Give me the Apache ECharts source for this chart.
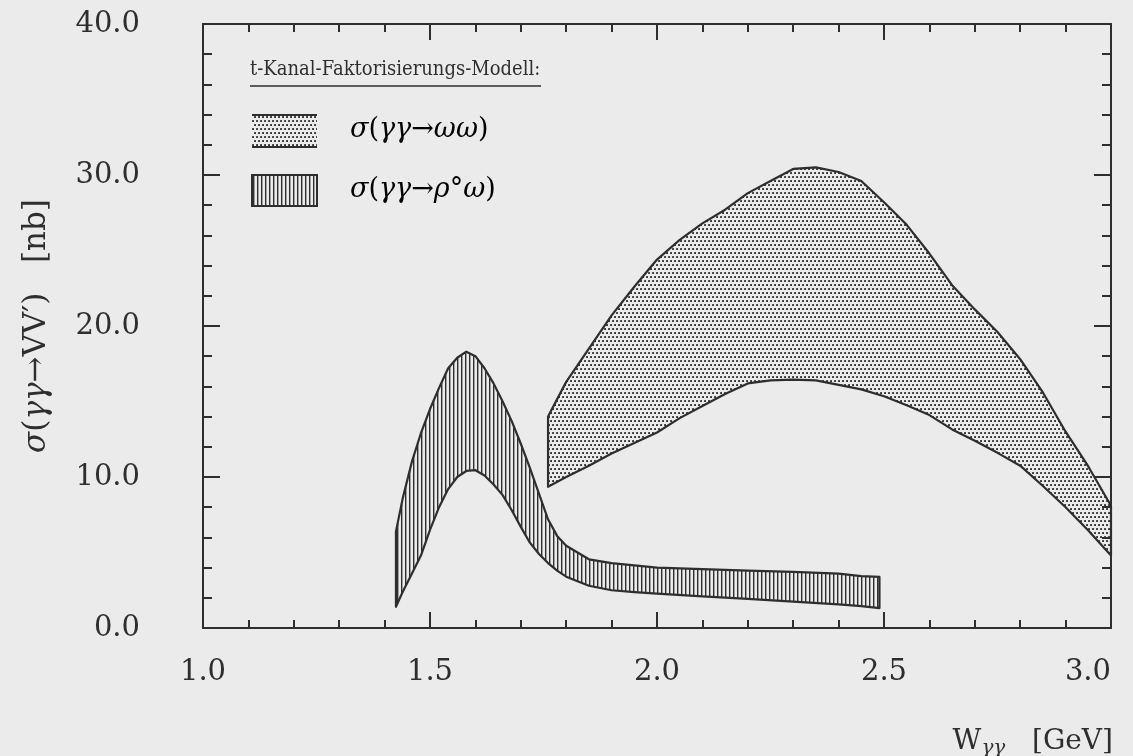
<!DOCTYPE html>
<html>
<head>
<meta charset="utf-8">
<script src="https://cdn.jsdelivr.net/npm/echarts@6/dist/echarts.min.js"></script>
<style>
  html, body { margin: 0; padding: 0; background: #ebebeb; }
  #chart { width: 1133px; height: 756px; }
</style>
</head>
<body>
<div id="chart"></div>
<script>
// W_gamma-gamma in GeV, cross sections in nb
const rhoX = [1.425, 1.44, 1.46, 1.48, 1.50, 1.52, 1.54, 1.56, 1.58, 1.60, 1.62, 1.64, 1.66, 1.68, 1.70,
  1.72, 1.74, 1.76, 1.78, 1.80, 1.85, 1.90, 1.95, 2.00, 2.10, 2.20, 2.30, 2.40, 2.45, 2.49];
const rhoHigh = [6.4, 8.6, 11.0, 12.9, 14.5, 15.9, 17.2, 17.9, 18.3, 18.0, 17.2, 16.2, 15.0, 13.7, 12.2,
  10.6, 8.9, 7.2, 6.1, 5.45, 4.55, 4.3, 4.15, 4.0, 3.9, 3.8, 3.72, 3.6, 3.44, 3.38];
const rhoLow = [1.4, 2.4, 3.6, 4.8, 6.5, 8.0, 9.2, 10.0, 10.4, 10.45, 10.1, 9.5, 8.8, 7.8, 6.7,
  5.65, 4.9, 4.3, 3.8, 3.4, 2.8, 2.5, 2.38, 2.28, 2.1, 1.93, 1.75, 1.57, 1.45, 1.32];

const omegaX = [1.76, 1.80, 1.85, 1.90, 1.95, 2.00, 2.05, 2.10, 2.15, 2.20, 2.25, 2.30, 2.35, 2.40,
  2.45, 2.50, 2.55, 2.60, 2.65, 2.70, 2.75, 2.80, 2.85, 2.90, 2.95, 3.00];
const omegaHigh = [14.0, 16.3, 18.5, 20.7, 22.6, 24.4, 25.7, 26.8, 27.7, 28.8, 29.6, 30.4, 30.5, 30.2,
  29.6, 28.2, 26.7, 24.8, 22.7, 21.1, 19.6, 17.8, 15.6, 13.0, 10.7, 8.1];
const omegaLow = [9.35, 10.0, 10.75, 11.55, 12.25, 12.95, 13.9, 14.7, 15.5, 16.2, 16.4, 16.45, 16.4, 16.1,
  15.8, 15.35, 14.75, 14.1, 13.15, 12.4, 11.6, 10.75, 9.4, 8.0, 6.45, 4.8];

const xTickLabels = ['1.0', '1.5', '2.0', '2.5', '3.0'];
const yTickLabels = ['0.0', '10.0', '20.0', '30.0', '40.0'];

const ink = '#2e2e2e';
const serif = 'DejaVu Serif';

function dotPattern() {
  const c = document.createElement('canvas');
  c.width = 8; c.height = 8;
  const ctx = c.getContext('2d');
  ctx.fillStyle = '#333333';
  [[1, 1], [5, 1], [3, 5], [7, 5]].forEach(p => ctx.fillRect(p[0] - 0.9, p[1] - 0.9, 1.9, 1.9));
  return { image: c, repeat: 'repeat' };
}

function linePattern() {
  const c = document.createElement('canvas');
  c.width = 4; c.height = 4;
  const ctx = c.getContext('2d');
  ctx.fillStyle = '#2e2e2e';
  ctx.fillRect(1, 0, 1.4, 4);
  return { image: c, repeat: 'repeat' };
}

const dots = dotPattern();
const hatch = linePattern();

function bandSeries(name, xs, lo, hi, fill) {
  return {
    name: name,
    type: 'custom',
    data: xs.map((x, i) => [x, lo[i], hi[i]]),
    encode: { x: 0, y: [1, 2] },
    renderItem: function (params, api) {
      if (params.dataIndex !== 0) return null;
      const pts = [];
      for (let i = 0; i < xs.length; i++) pts.push(api.coord([xs[i], hi[i]]));
      for (let i = xs.length - 1; i >= 0; i--) pts.push(api.coord([xs[i], lo[i]]));
      return {
        type: 'polygon',
        shape: { points: pts },
        style: { fill: fill, stroke: ink, lineWidth: 2.2, lineJoin: 'round' }
      };
    },
    silent: true,
    z: 3
  };
}

function xAxisBase(pos) {
  return {
    type: 'value', position: pos, min: 1, max: 3, interval: 0.5,
    axisLine: { show: true, onZero: false, lineStyle: { color: ink, width: 2 } },
    axisTick: { show: true, inside: true, length: 16, lineStyle: { color: ink, width: 2 } },
    minorTick: { show: true, splitNumber: 5, length: 8, lineStyle: { color: ink, width: 2 } },
    splitLine: { show: false },
    axisLabel: {
      show: pos === 'bottom', margin: 30, fontSize: 29, fontFamily: serif, color: ink,
      alignMaxLabel: 'right',
      formatter: (v, i) => xTickLabels[i]
    }
  };
}

function yAxisBase(pos) {
  return {
    type: 'value', position: pos, min: 0, max: 40, interval: 10,
    axisLine: { show: true, onZero: false, lineStyle: { color: ink, width: 2 } },
    axisTick: { show: true, inside: true, length: 17, lineStyle: { color: ink, width: 2 } },
    minorTick: { show: true, splitNumber: 5, length: 9, lineStyle: { color: ink, width: 2 } },
    splitLine: { show: false },
    axisLabel: {
      show: pos === 'left', margin: 63, fontSize: 29, fontFamily: serif, color: ink,
      formatter: (v, i) => yTickLabels[i]
    }
  };
}

const xBottom = xAxisBase('bottom');
xBottom.name = '{n|W}{sub|γγ}   {n|[GeV]}';
xBottom.nameLocation = 'end';
xBottom.nameGap = 2;
xBottom.nameTextStyle = {
  align: 'right', verticalAlign: 'middle', padding: [228, 0, 0, 0], color: ink, fontFamily: serif, fontSize: 28,
  rich: {
    n: { fontSize: 28, fontFamily: serif, color: ink, lineHeight: 34 },
    sub: { fontSize: 20, fontFamily: serif, fontStyle: 'italic', color: ink, lineHeight: 18, verticalAlign: 'bottom' }
  }
};

const yLeft = yAxisBase('left');
yLeft.name = '{it|σ}{n|(}{it|γγ}{n|→VV′)   [nb]}';
yLeft.nameLocation = 'middle';
yLeft.nameGap = 151;
yLeft.nameTextStyle = {
  color: ink, fontFamily: serif, fontSize: 31,
  rich: {
    n: { fontSize: 31, fontFamily: serif, color: ink },
    it: { fontSize: 31, fontFamily: serif, fontStyle: 'italic', color: ink }
  }
};

const labelRich = {
  n: { fontSize: 27, fontFamily: serif, color: ink },
  it: { fontSize: 27, fontFamily: serif, fontStyle: 'italic', color: ink }
};

const myChart = echarts.init(document.getElementById('chart'), null, { renderer: 'canvas' });
const option = {
  backgroundColor: '#ebebeb',
  animation: false,
  grid: { left: 203, right: 22, top: 24, bottom: 128, containLabel: false, outerBoundsMode: 'none' },
  xAxis: [xBottom, xAxisBase('top')],
  yAxis: [yLeft, yAxisBase('right')],
  series: [
    bandSeries('omegaomega', omegaX, omegaLow, omegaHigh, dots),
    bandSeries('rhoomega', rhoX, rhoLow, rhoHigh, hatch)
  ],
  graphic: [
    {
      type: 'text', x: 250, y: 60, scaleX: 0.9,
      style: { text: 't-Kanal-Faktorisierungs-Modell:', fontSize: 20, fontFamily: serif, fill: ink }
    },
    { type: 'line', shape: { x1: 250, y1: 86, x2: 541, y2: 86 }, style: { stroke: ink, lineWidth: 1.6 } },
    { type: 'rect', shape: { x: 252, y: 115, width: 65, height: 32 }, style: { fill: dots } },
    { type: 'line', shape: { x1: 252, y1: 115, x2: 317, y2: 115 }, style: { stroke: ink, lineWidth: 2 } },
    { type: 'line', shape: { x1: 252, y1: 147, x2: 317, y2: 147 }, style: { stroke: ink, lineWidth: 2 } },
    { type: 'rect', shape: { x: 252, y: 175, width: 65, height: 31 }, style: { fill: hatch, stroke: ink, lineWidth: 2 } },
    {
      type: 'text', left: 350, top: 116,
      style: { text: '{it|σ}{n|(}{it|γγ}{n|→}{it|ωω}{n|)}', rich: labelRich }
    },
    {
      type: 'text', left: 350, top: 176,
      style: { text: '{it|σ}{n|(}{it|γγ}{n|→}{it|ρ}{n|°}{it|ω}{n|)}', rich: labelRich }
    }
  ]
};
myChart.setOption(option);
</script>
</body>
</html>
